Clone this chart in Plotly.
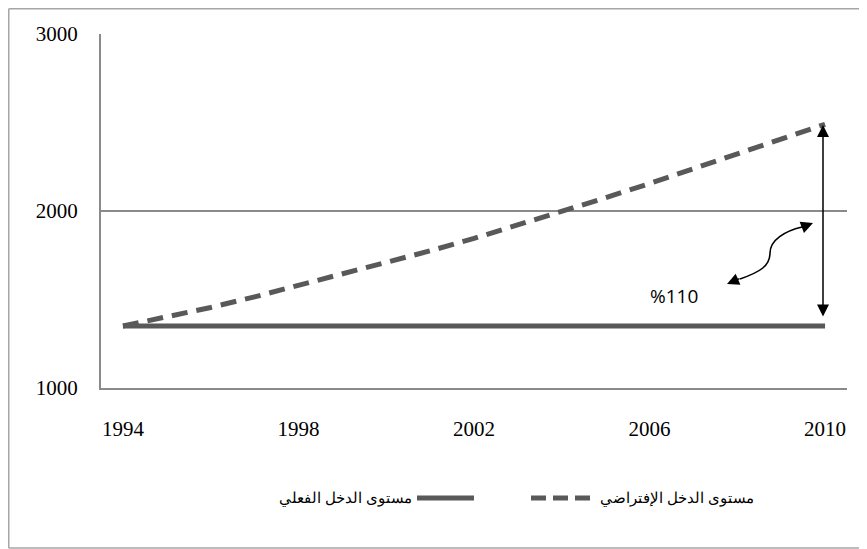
import plotly.graph_objects as go

# ---- data ----
years = list(range(1994, 2011))
actual_income = [1350] * 17
hypothetical_income = [1350, 1400, 1455, 1515, 1580, 1640, 1705, 1775, 1845,
                       1920, 1995, 2075, 2155, 2240, 2320, 2405, 2490]
x_ticks = [1994, 1998, 2002, 2006, 2010]
y_ticks = [1000, 2000, 3000]
name_actual = "مستوى الدخل الفعلي"
name_hypo = "مستوى الدخل الإفتراضي"
pct_label = "%110"

OFF = 8  # page body margin
W, H = 867 - OFF, 549 - OFF
L, T = 101 - OFF, 34 - OFF
R = W - (847 - OFF)
B = H - (388 - OFF)
PW, PH = W - L - R, H - T - B
XR = [1993.5, 2010.5]
YR = [1000, 3000]

# helpers take page pixel coordinates
def px2x(px):
    return XR[0] + (px - OFF - L) / PW * (XR[1] - XR[0])

def py2y(py):
    return YR[0] + (T + PH - (py - OFF)) / PH * (YR[1] - YR[0])

def pxp(px):
    return (px - OFF - L) / PW

def pyp(py):
    return (T + PH - (py - OFF)) / PH

LINE_COL = "#595959"
GRID_COL = "#8a8a8a"
FRAME_COL = "#a6a6a6"

fig = go.Figure()
fig.add_trace(go.Scatter(x=years, y=actual_income, mode="lines", name=name_actual,
                         line=dict(color=LINE_COL, width=5), showlegend=False))
fig.add_trace(go.Scatter(x=years, y=hypothetical_income, mode="lines", name=name_hypo,
                         line=dict(color=LINE_COL, width=5, dash="16px,9px"),
                         showlegend=False))

shapes = []
# outer frame (left, top, bottom edges)
fx0, fy0, fy1 = pxp(OFF + 0.75), pyp(OFF + 0.75), pyp(548)
for (a, b, c, d) in [(fx0, fy0, fx0, fy1), (fx0, fy0, pxp(867), fy0), (fx0, fy1, pxp(867), fy1)]:
    shapes.append(dict(type="line", xref="paper", yref="paper", layer="below",
                       x0=a, y0=b, x1=c, y1=d, line=dict(color=FRAME_COL, width=1.5)))
# curved arrow body (S curve)
def P(px, py):
    return f"{px2x(px)},{py2y(py)}"
path = ("M " + P(740, 279) + " C " + P(760, 272) + " " + P(770, 266) + " " + P(770, 253)
        + " C " + P(770, 240) + " " + P(785, 231) + " " + P(802, 227))
shapes.append(dict(type="path", xref="x", yref="y", path=path,
                   line=dict(color="black", width=1.6)))
# legend symbols
LEG_Y = 498
shapes.append(dict(type="line", xref="paper", yref="paper",
                   x0=pxp(417), x1=pxp(474), y0=pyp(LEG_Y), y1=pyp(LEG_Y),
                   line=dict(color=LINE_COL, width=5)))
shapes.append(dict(type="line", xref="paper", yref="paper",
                   x0=pxp(531), x1=pxp(591), y0=pyp(LEG_Y), y1=pyp(LEG_Y),
                   line=dict(color=LINE_COL, width=5, dash="15px,7px")))

annotations = []
# vertical double arrow
annotations.append(dict(x=px2x(823), y=py2y(125), ax=px2x(823), ay=py2y(318),
                        xref="x", yref="y", axref="x", ayref="y", text="",
                        showarrow=True, arrowhead=2, startarrowhead=2,
                        arrowside="end+start", arrowsize=1.6, startarrowsize=1.6,
                        arrowwidth=1.5, arrowcolor="black"))
# curved arrow heads
annotations.append(dict(x=px2x(727), y=py2y(284), ax=14, ay=-6, xref="x", yref="y",
                        text="", showarrow=True, arrowhead=2, arrowsize=1.6,
                        arrowwidth=1.5, arrowcolor="black"))
annotations.append(dict(x=px2x(813), y=py2y(223), ax=-13, ay=5, xref="x", yref="y",
                        text="", showarrow=True, arrowhead=2, arrowsize=1.6,
                        arrowwidth=1.5, arrowcolor="black"))
# percent label
annotations.append(dict(x=px2x(674), y=py2y(296), xref="x", yref="y", text=pct_label,
                        showarrow=False, font=dict(family="Open Sans", size=19, color="black")))
# legend texts
annotations.append(dict(x=pxp(414), y=pyp(LEG_Y), xref="paper", yref="paper",
                        xanchor="right", yanchor="middle", text=name_actual, showarrow=False,
                        font=dict(family="Liberation Sans", size=15, color="black")))
annotations.append(dict(x=pxp(598), y=pyp(LEG_Y), xref="paper", yref="paper",
                        xanchor="left", yanchor="middle", text=name_hypo, showarrow=False,
                        font=dict(family="Liberation Sans", size=15, color="black")))

fig.update_layout(
    width=W, height=H,
    margin=dict(l=L, r=R, t=T, b=B, pad=0),
    paper_bgcolor="white", plot_bgcolor="white",
    shapes=shapes, annotations=annotations,
    showlegend=False,
    xaxis=dict(range=XR, tickvals=x_ticks, showgrid=False, zeroline=False,
               showline=True, linecolor=GRID_COL, linewidth=2, ticks="",
               ticklabelstandoff=21,
               tickfont=dict(family="Liberation Serif", size=21, color="black")),
    yaxis=dict(range=YR, tickvals=y_ticks, showgrid=True, gridcolor=GRID_COL, gridwidth=1.5,
               zeroline=False, showline=True, linecolor=GRID_COL, linewidth=2, ticks="",
               ticklabelstandoff=17,
               tickfont=dict(family="Liberation Serif", size=21, color="black")),
)

fig.write_html("out.html")
